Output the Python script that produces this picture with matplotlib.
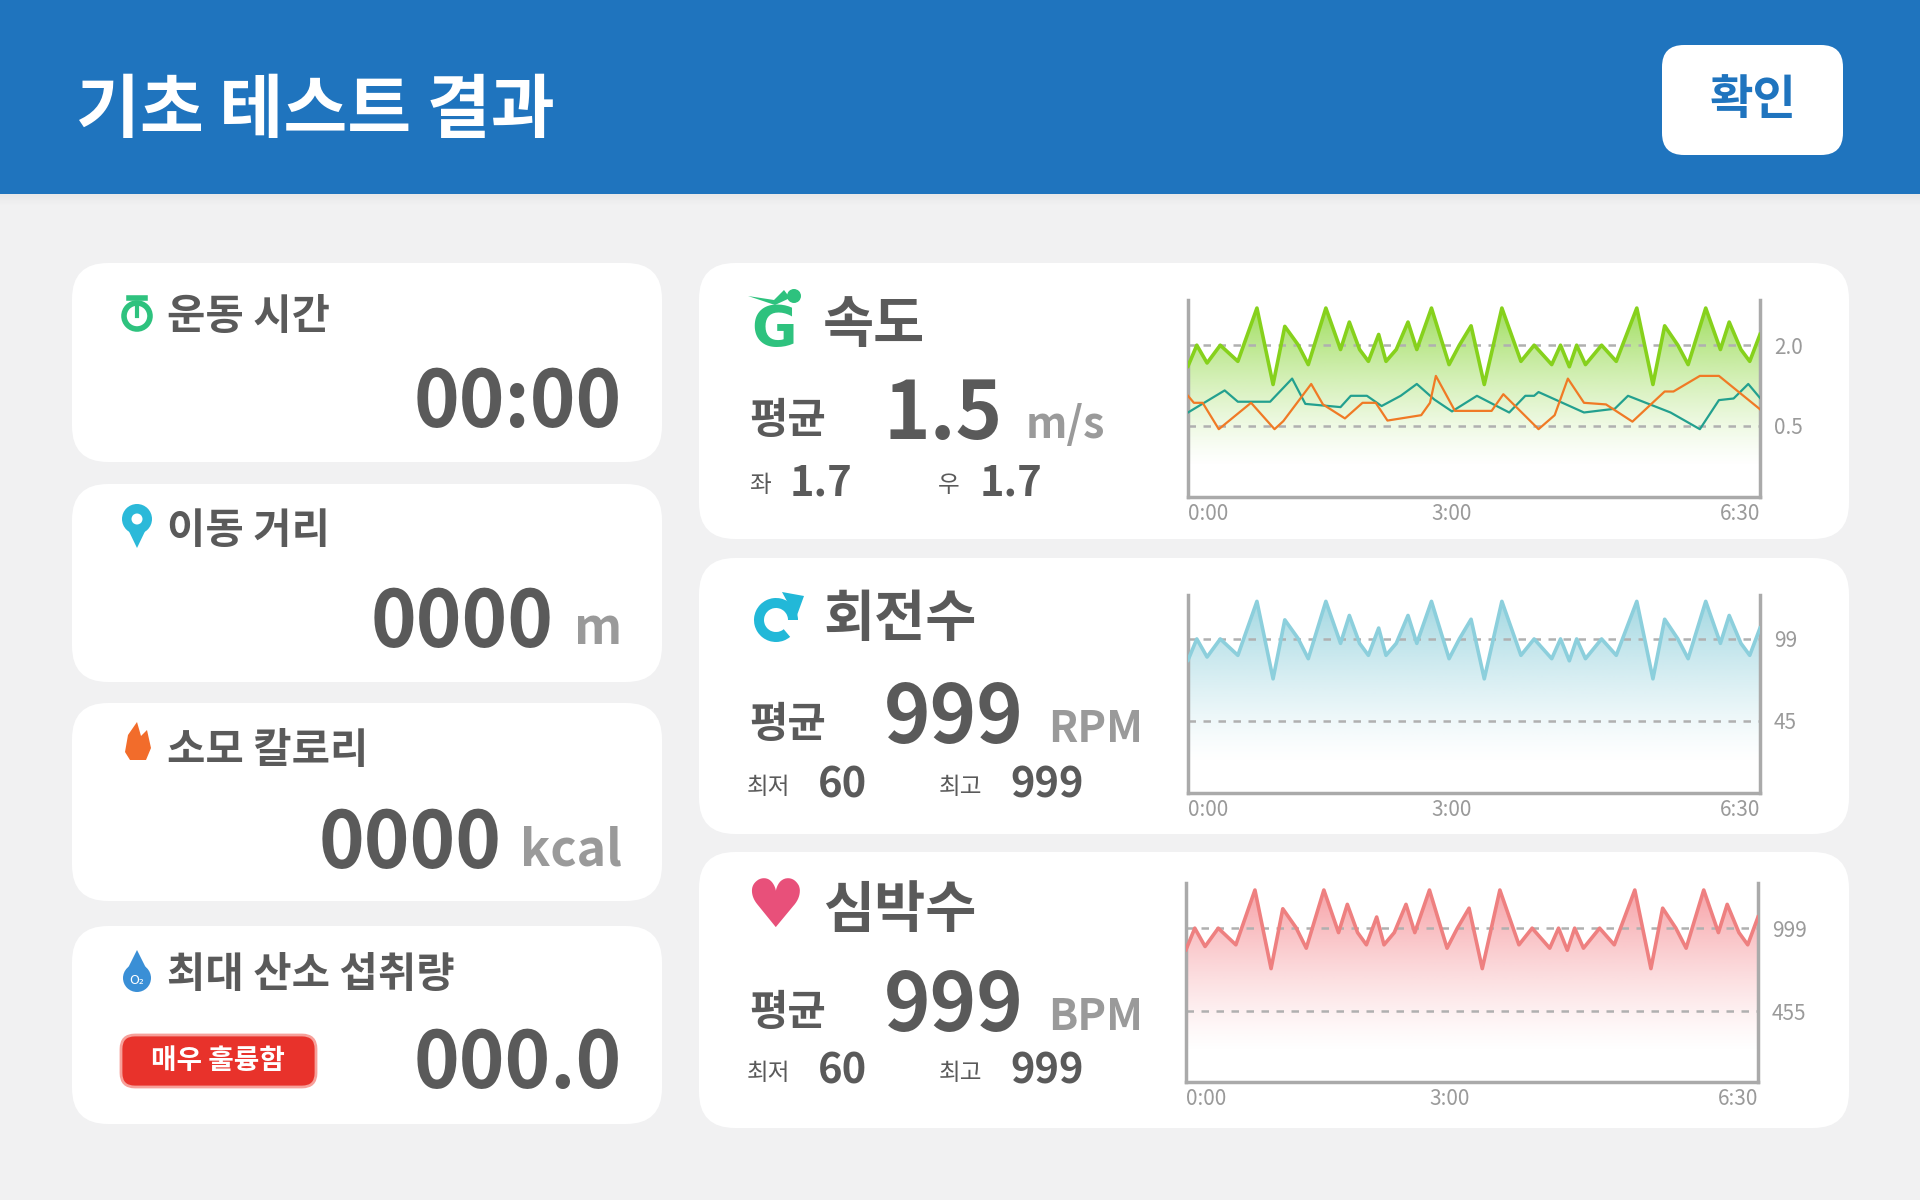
import numpy as np
import matplotlib
matplotlib.use("Agg")
import matplotlib.pyplot as plt
from matplotlib.patches import FancyBboxPatch, Rectangle, Circle, Wedge, Polygon
from matplotlib.colors import to_rgb

plt.rcParams['font.family'] = ['Noto Sans CJK KR', 'DejaVu Sans']

# ---------------- data ----------------
title = "기초 테스트 결과"
button = "확인"
left_labels = ["운동 시간", "이동 거리", "소모 칼로리", "최대 산소 섭취량"]
left_values = ["00:00", "0000", "0000", "000.0"]
left_units = ["", "m", "kcal", ""]
badge = "매우 훌륭함"

xticks = [0, 180, 390]
xtick_labels = ["0:00", "3:00", "6:30"]

t_main = [0, 6, 13, 22, 34, 47, 58, 66, 75, 82, 94, 104, 110, 117, 123, 130, 135, 142, 150, 156,
          166, 178, 185, 193, 202, 214, 227, 236, 248, 254, 260, 265, 271, 282, 292, 306, 317, 325,
          334, 341, 353, 363, 369, 377, 383, 390]
speed = [1.61, 2.0, 1.67, 2.0, 1.70, 2.69, 1.27, 2.35, 2.01, 1.64, 2.69, 1.92, 2.43, 1.92, 1.70, 2.20,
         1.70, 1.92, 2.43, 1.92, 2.69, 1.64, 2.0, 2.36, 1.27, 2.69, 1.70, 2.0, 1.64, 2.0, 1.60, 2.0,
         1.64, 2.0, 1.70, 2.69, 1.27, 2.36, 2.0, 1.64, 2.69, 1.92, 2.43, 1.92, 1.70, 2.20]
rpm = [85.0, 99, 87.1, 99, 88.2, 123.8, 72.7, 111.6, 99.4, 86.0, 123.8, 96.1, 114.5, 96.1, 88.2, 106.2,
       88.2, 96.1, 114.5, 96.1, 123.8, 86.0, 99, 112, 72.7, 123.8, 88.2, 99, 86.0, 99, 84.6, 99,
       86.0, 99, 88.2, 123.8, 72.7, 112, 99, 86.0, 123.8, 96.1, 114.5, 96.1, 88.2, 106.2]
bpm = [858, 999, 879, 999, 890, 1249, 734, 1126, 1003, 868, 1249, 970, 1155, 970, 890, 1072,
       890, 970, 1155, 970, 1249, 868, 999, 1130, 734, 1249, 890, 999, 868, 999, 854, 999,
       868, 999, 890, 1249, 734, 1130, 999, 868, 1249, 970, 1155, 970, 890, 1072]

t_right = [0, 25, 34, 56, 71, 80, 104, 111, 122, 132, 145, 156, 168, 180, 197, 219, 230, 236, 239,
           270, 291, 300, 329, 349, 362, 372, 382, 390]
speed_right = [0.75, 1.16, 0.95, 0.95, 1.38, 0.91, 0.85, 1.06, 1.06, 0.87, 1.06, 1.28, 0.99, 0.77,
               1.06, 0.75, 1.06, 1.06, 1.13, 0.75, 0.82, 1.06, 0.75, 0.44, 0.98, 1.01, 1.28, 1.02]
t_left = [0, 4, 10, 21, 43, 59, 65, 84, 92, 107, 119, 128, 136, 159, 165, 169, 182, 207, 215, 239,
          250, 259, 270, 285, 303, 325, 331, 349, 362, 390]
speed_left = [1.06, 0.93, 0.93, 0.44, 0.93, 0.44, 0.59, 1.28, 0.90, 0.64, 0.93, 0.93, 0.60, 0.70, 0.93,
              1.43, 0.78, 0.78, 1.09, 0.44, 0.70, 1.38, 0.93, 0.90, 0.58, 1.14, 1.14, 1.43, 1.43, 0.81]

# ---------------- figure ----------------
W, H = 1920, 1200
fig = plt.figure(figsize=(19.2, 12), dpi=100)
fig.patch.set_facecolor("#f1f1f2")
bg = fig.add_axes([0, 0, 1, 1])
bg.set_xlim(0, W); bg.set_ylim(H, 0); bg.axis("off")

BLUE = "#1f74be"
DARK = "#5a5a5a"
GREY = "#9a9a9a"

# header
for i in range(12):
    bg.add_patch(Rectangle((0, 193 + i), W, 1, color="black", alpha=0.04 * (1 - i / 12), lw=0))
bg.add_patch(Rectangle((0, 0), W, 194, color=BLUE, lw=0))
bg.text(76, 112, title, color="white", fontsize=50, fontweight="bold", va="center", ha="left")
bg.add_patch(FancyBboxPatch((1662, 45), 181, 110, boxstyle="round,pad=0,rounding_size=22",
                            fc="white", ec="none"))
bg.text(1753, 100, button, color=BLUE, fontsize=34, fontweight="bold", ha="center", va="center")


def card(x0, y0, x1, y1):
    bg.add_patch(FancyBboxPatch((x0, y0), x1 - x0, y1 - y0, boxstyle="round,pad=0,rounding_size=36",
                                fc="white", ec="none"))


# left cards
lc = [(263, 462), (484, 682), (703, 901), (926, 1124)]
for (y0, y1) in lc:
    card(72, y0, 662, y1)

icon_y = [313, 527, 747, 971]
bg.add_patch(Circle((137, 316), 13, fc="none", ec="#2ec27e", lw=4))
bg.plot([137, 137], [316, 307], color="#2ec27e", lw=3)
bg.plot([129, 145], [298, 298], color="#2ec27e", lw=4)
bg.add_patch(Polygon([[124, 521], [150, 521], [137, 548]], fc="#2bb9d9", ec="none"))
bg.add_patch(Circle((137, 519), 15, fc="#2bb9d9", ec="none"))
bg.add_patch(Circle((137, 519), 5.5, fc="white", ec="none"))
bg.add_patch(Polygon([[125, 752], [128, 735], [137, 722], [141, 736], [147, 730], [151, 748],
                      [146, 760], [130, 760]], fc="#f26c2b", ec="none", closed=True))
bg.add_patch(Circle((138, 751), 9, fc="#f26c2b", ec="none"))
bg.add_patch(Circle((137, 978), 14, fc="#3a8fd6", ec="none"))
bg.add_patch(Polygon([[126, 972], [137, 950], [148, 972]], fc="#3a8fd6", ec="none"))
bg.text(137, 980, "O₂", color="white", fontsize=9, ha="center", va="center", family=["DejaVu Sans"])

for i in range(4):
    bg.text(167, icon_y[i] + 4, left_labels[i], color=DARK, fontsize=30, fontweight="bold", va="center")
val_y = [404, 624, 845, 1065]
for i in range(4):
    if left_units[i]:
        bg.text(622, val_y[i] + 6, left_units[i], color=GREY, fontsize=36, fontweight="bold",
                ha="right", va="center")
        off = {"m": 68, "kcal": 120}[left_units[i]]
        bg.text(622 - off, val_y[i], left_values[i], color=DARK, fontsize=56, fontweight="bold",
                ha="right", va="center")
    else:
        bg.text(622, val_y[i], left_values[i], color=DARK, fontsize=56, fontweight="bold",
                ha="right", va="center")
bg.add_patch(FancyBboxPatch((121, 1035), 195, 52, boxstyle="round,pad=0,rounding_size=14",
                            fc="#e8322b", ec="#f7a09a", lw=2))
bg.text(218, 1061, badge, color="white", fontsize=20, fontweight="bold", ha="center", va="center")

# right cards
rc = [(263, 539), (558, 834), (852, 1128)]
for (y0, y1) in rc:
    card(699, y0, 1849, y1)

titles = ["속도", "회전수", "심박수"]
title_y = [326, 620, 911]
avg_y = [421, 725, 1013]
sub_y = [483, 786, 1071]
avg_vals = ["1.5", "999", "999"]
avg_units = ["m/s", "RPM", "BPM"]
avg_unit_x = [1026, 1048, 1048]
sub_labels = [("좌", "1.7", "우", "1.7"), ("최저", "60", "최고", "999"), ("최저", "60", "최고", "999")]

for i in range(3):
    bg.text(823, title_y[i], titles[i], color=DARK, fontsize=40, fontweight="bold", va="center")
    bg.text(749, avg_y[i], "평균", color=DARK, fontsize=30, fontweight="bold", va="center")
    bg.text(884, avg_y[i] - 6, avg_vals[i], color=DARK, fontsize=57, fontweight="bold", va="center")
    bg.text(avg_unit_x[i], avg_y[i] + 4, avg_units[i], color=GREY, fontsize=31, fontweight="bold",
            va="center")
    a, b, c, d = sub_labels[i]
    xs = [749, 790, 938, 980] if i == 0 else [747, 818, 939, 1010]
    bg.text(xs[0], sub_y[i] + 2, a, color=DARK, fontsize=17, va="center")
    bg.text(xs[1], sub_y[i], b, color=DARK, fontsize=30, fontweight="bold", va="center")
    bg.text(xs[2], sub_y[i] + 2, c, color=DARK, fontsize=17, va="center")
    bg.text(xs[3], sub_y[i], d, color=DARK, fontsize=30, fontweight="bold", va="center")

# title icons
bg.text(774, 330, "G", color="#2ec27e", fontsize=40, fontweight="bold", ha="center", va="center",
        family=["DejaVu Sans"])
bg.add_patch(Polygon([[748, 296], [775, 305], [790, 298], [784, 290], [774, 300]], fc="#2ec27e", ec="none"))
bg.add_patch(Circle((794, 296), 7, fc="#2ec27e", ec="none"))
bg.add_patch(Wedge((776, 620), 22, 50, 360, width=10, fc="#22b8d8", ec="none"))
bg.add_patch(Polygon([[782, 592], [804, 596], [796, 618]], fc="#22b8d8", ec="none"))
bg.text(775, 908, "♥", color="#e8507a", fontsize=48, ha="center", va="center", family=["DejaVu Sans"])
bg.plot([757, 766, 771, 777, 782, 793], [908, 908, 898, 918, 906, 906], color="white", lw=2.5)


def chart(px0, py0, px1, py1, ylim, yt, ytl, color, fillc, series_main, extra=None):
    ax = fig.add_axes([px0 / W, 1 - py1 / H, (px1 - px0) / W, (py1 - py0) / H])
    ax.set_facecolor("white")
    ax.set_xlim(0, 390)
    ax.set_ylim(*ylim)
    rgb = np.array(to_rgb(fillc))
    n = 256
    grad = np.zeros((n, 1, 4))
    fr = np.linspace(1, 0, n)
    strength = np.clip((fr - 0.15) / 0.85, 0, 1) ** 1.3
    grad[:, 0, :3] = rgb
    grad[:, 0, 3] = strength * 0.85
    poly = ax.fill_between(t_main, series_main, ylim[0], color="none", lw=0)
    im = ax.imshow(grad, extent=[0, 390, ylim[0], ylim[1]], aspect="auto", zorder=1, origin="upper")
    im.set_clip_path(poly.get_paths()[0], transform=ax.transData)
    ax.plot(t_main, series_main, color=color, lw=2.6, zorder=3, solid_joinstyle="round")
    for v in yt:
        ax.axhline(v, color="#b0b0b0", lw=1.8, ls=(0, (3, 3)), zorder=2)
    if extra:
        for tx, sy, c in extra:
            ax.plot(tx, sy, color=c, lw=1.6, zorder=4)
    for s in ["left", "bottom", "right"]:
        ax.spines[s].set_color("#aaaaaa")
        ax.spines[s].set_linewidth(2.5)
    ax.spines["top"].set_visible(False)
    ax.set_xticks(xticks)
    ax.set_xticklabels(xtick_labels)
    ax.tick_params(axis="x", length=0, labelsize=15, labelcolor=GREY, pad=4)
    labs = ax.get_xticklabels()
    labs[0].set_ha("left"); labs[-1].set_ha("right")
    ax.yaxis.tick_right()
    ax.set_yticks(yt)
    ax.set_yticklabels(ytl)
    ax.tick_params(axis="y", length=0, labelsize=15, labelcolor=GREY, pad=10)
    return ax


chart(1188, 300, 1760, 497, (-0.82, 2.84), [2.0, 0.5], ["2.0", "0.5"], "#86d11c", "#8ad63a",
      speed, extra=[(t_right, speed_right, "#23a08f"), (t_left, speed_left, "#f07a25")])
chart(1188, 595, 1760, 793, (-2.6, 128), [99, 45], ["99", "45"], "#8ccfdc", "#8ecfdb", rpm)
chart(1186, 883, 1758, 1082, (-9, 1295), [999, 455], ["999", "455"], "#ee8080", "#f58e94", bpm)

fig.savefig("out.png", dpi=100, facecolor=fig.get_facecolor())
